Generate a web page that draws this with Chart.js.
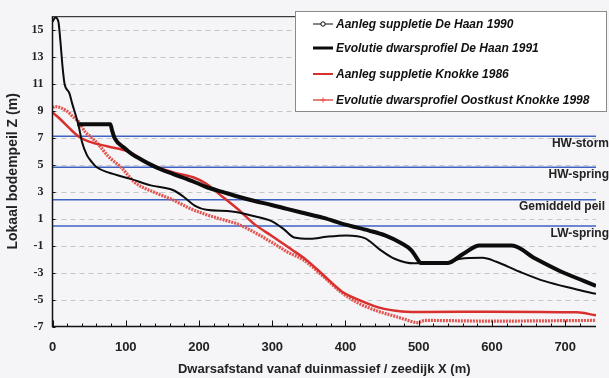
<!DOCTYPE html>
<html>
<head>
<meta charset="utf-8">
<script src="https://cdn.jsdelivr.net/npm/chart.js@4"></script>
<style>
  html, body { margin: 0; padding: 0; background: #f5f5f7; }
</style>
</head>
<body>
<canvas id="profiel" width="609" height="378"></canvas>
<script>
// tick labels
var yTicks = [-7, -5, -3, -1, 1, 3, 5, 7, 9, 11, 13, 15];
var xLabels = [0, 100, 200, 300, 400, 500, 600, 700];

// water levels (m)
var levelNames = ['HW-storm', 'HW-spring', 'Gemiddeld peil', 'LW-spring'];
var levelValues = [7.1, 4.8, 2.4, 0.45];

var seriesNames = [
  'Aanleg suppletie De Haan 1990',
  'Evolutie dwarsprofiel De Haan 1991',
  'Aanleg suppletie Knokke 1986',
  'Evolutie dwarsprofiel Oostkust Knokke 1998'
];

// Aanleg suppletie De Haan 1990
var haan1990X = [34, 79, 81, 85, 99, 108, 121, 134, 150, 165, 190, 210, 232, 254, 276, 299, 320, 343, 370, 400, 432, 454, 477, 490, 497, 503, 539, 561, 583, 627, 659, 694, 726, 742];
var haan1990Y = [8.0, 8.0, 7.6, 6.95, 6.2, 5.8, 5.38, 5.0, 4.6, 4.3, 3.8, 3.34, 2.98, 2.62, 2.3, 2.01, 1.72, 1.41, 1.05, 0.55, 0.11, -0.25, -0.85, -1.35, -1.9, -2.3, -2.3, -1.6, -1.0, -1.0, -1.96, -2.92, -3.64, -4.0];

// Evolutie dwarsprofiel De Haan 1991
var haan1991X = [0, 4, 8, 10.7, 13.8, 16.4, 23, 27, 32, 36.4, 40.4, 47, 54, 60.4, 76, 107, 134, 165, 179, 196, 210, 245, 276, 299, 316, 330, 352, 374, 401, 427, 446, 467, 494, 539, 557, 587, 606, 637, 672, 712, 742];
var haan1991Y = [15.6, 15.9, 15.6, 14.2, 12.2, 11.0, 10.3, 9.5, 8.6, 7.7, 6.65, 5.7, 5.17, 4.8, 4.42, 3.94, 3.46, 3.1, 2.62, 1.9, 1.65, 1.53, 1.17, 0.81, 0.2, -0.4, -0.5, -0.35, -0.25, -0.47, -1.26, -1.98, -2.32, -2.25, -1.98, -1.91, -2.2, -2.92, -3.64, -4.2, -4.58];

// Aanleg suppletie Knokke 1986
var knokke1986X = [0, 10, 23, 36, 50, 76, 103, 134, 165, 192, 210, 232, 254, 276, 299, 325, 347, 370, 395, 419, 446, 477, 508, 597, 716, 742];
var knokke1986Y = [8.87, 8.4, 7.7, 7.07, 6.7, 6.34, 5.98, 5.02, 4.42, 4.06, 3.58, 2.62, 1.65, 0.57, -0.27, -1.24, -2.08, -3.2, -4.4, -5.05, -5.6, -5.88, -5.93, -5.9, -5.95, -6.17];

// Evolutie dwarsprofiel Oostkust Knokke 1998
var knokke1998X = [0, 4, 18.7, 27, 36, 45, 54, 63, 76, 94, 112, 143, 165, 187, 210, 232, 254, 276, 299, 321, 343, 370, 395, 419, 446, 463, 480, 499, 508, 597, 742];
var knokke1998Y = [9.23, 9.3, 9.0, 8.6, 8.15, 7.4, 6.97, 6.47, 5.62, 4.78, 3.7, 2.86, 2.37, 1.77, 1.29, 0.93, 0.57, -0.03, -0.75, -1.48, -2.08, -3.3, -4.5, -5.3, -5.9, -6.17, -6.45, -6.72, -6.55, -6.6, -6.55];

function pts(xs, ys) {
  return xs.map(function (x, i) { return { x: x, y: ys[i] }; });
}

// grid, water levels, axes, tick marks and legend
var overlay = {
  id: 'overlay',
  beforeDatasetsDraw: function (chart) {
    var ctx = chart.ctx, a = chart.chartArea, ys = chart.scales.y;
    ctx.save();
    ctx.strokeStyle = '#c6c6ca';
    ctx.lineWidth = 1;
    ctx.setLineDash([5, 4]);
    yTicks.forEach(function (v) {
      if (v === -7) return;
      var py = Math.round(ys.getPixelForValue(v)) + 0.5;
      ctx.beginPath(); ctx.moveTo(a.left, py); ctx.lineTo(a.right, py); ctx.stroke();
    });
    ctx.setLineDash([]);
    ctx.strokeStyle = '#3d62c2';
    ctx.lineWidth = 1.6;
    levelValues.forEach(function (v) {
      var py = ys.getPixelForValue(v);
      ctx.beginPath(); ctx.moveTo(a.left, py); ctx.lineTo(a.right, py); ctx.stroke();
    });
    ctx.restore();
  },
  afterDatasetsDraw: function (chart) {
    var ctx = chart.ctx, a = chart.chartArea, xs = chart.scales.x, ys = chart.scales.y;
    ctx.save();
    // frame
    ctx.strokeStyle = '#111';
    ctx.lineWidth = 1;
    ctx.beginPath(); ctx.moveTo(a.left, a.top + 0.5); ctx.lineTo(a.right, a.top + 0.5); ctx.stroke();
    ctx.lineWidth = 1.5;
    ctx.beginPath(); ctx.moveTo(a.left, a.top); ctx.lineTo(a.left, a.bottom); ctx.lineTo(a.right, a.bottom); ctx.stroke();
    // tick marks pointing inwards
    ctx.lineWidth = 1;
    xs.ticks.forEach(function (t) {
      if (t.value % 20 !== 0) return;
      var px = Math.round(xs.getPixelForValue(t.value)) + 0.5;
      var len = t.value % 100 === 0 ? 6 : 3;
      ctx.beginPath(); ctx.moveTo(px, a.bottom); ctx.lineTo(px, a.bottom - len); ctx.stroke();
    });
    yTicks.forEach(function (v) {
      var py = Math.round(ys.getPixelForValue(v)) + 0.5;
      ctx.beginPath(); ctx.moveTo(a.left, py); ctx.lineTo(a.left + 3, py); ctx.stroke();
    });
    // water level labels
    ctx.fillStyle = '#222';
    ctx.font = 'bold 12px "Liberation Sans", Arial, sans-serif';
    ctx.textAlign = 'right';
    ctx.textBaseline = 'middle';
    levelNames.forEach(function (name, i) {
      ctx.fillText(name, i === 2 ? 605 : 609, ys.getPixelForValue(levelValues[i]) + 7.5);
    });
    // legend box
    var bx = 295, by = 11, bw = 311, bh = 100;
    ctx.fillStyle = '#ffffff';
    ctx.fillRect(bx, by, bw, bh);
    ctx.strokeStyle = '#8a8a8a';
    ctx.lineWidth = 1;
    ctx.strokeRect(bx + 0.5, by + 0.5, bw, bh);
    ctx.font = 'italic bold 12px "Liberation Sans", Arial, sans-serif';
    ctx.textAlign = 'left';
    var rows = [24, 48, 74, 100];
    chart.data.datasets.forEach(function (ds, i) {
      var ry = rows[i];
      ctx.strokeStyle = ds.borderColor;
      ctx.lineWidth = [1, 3, 2, 1.5][i];
      ctx.beginPath(); ctx.moveTo(313, ry); ctx.lineTo(333, ry); ctx.stroke();
      if (i === 0) {
        ctx.fillStyle = '#fff';
        ctx.beginPath(); ctx.arc(323, ry, 2.2, 0, Math.PI * 2); ctx.fill(); ctx.stroke();
      }
      if (i === 3) {
        ctx.lineWidth = 1;
        ctx.beginPath();
        ctx.moveTo(323, ry - 2.5); ctx.lineTo(323, ry + 2.5);
        ctx.moveTo(320.5, ry); ctx.lineTo(325.5, ry);
        ctx.stroke();
      }
      ctx.fillStyle = '#111';
      ctx.fillText(ds.label, 336, ry + 0.5);
    });
    ctx.restore();
  }
};

var ctx = document.getElementById('profiel').getContext('2d');

var chart = new Chart(ctx, {
  type: 'line',
  data: {
    datasets: [{
      label: seriesNames[0],
      data: pts(haan1990X, haan1990Y),
      borderColor: '#0c0c0c',
      borderWidth: 4
    }, {
      label: seriesNames[1],
      data: pts(haan1991X, haan1991Y),
      borderColor: '#0c0c0c',
      borderWidth: 2
    }, {
      label: seriesNames[2],
      data: pts(knokke1986X, knokke1986Y),
      borderColor: '#d8302e',
      borderWidth: 2.5
    }, {
      label: seriesNames[3],
      data: pts(knokke1998X, knokke1998Y),
      borderColor: '#e25450',
      borderWidth: 3.2,
      borderDash: [2, 1]
    }]
  },
  plugins: [overlay],
  options: {
    responsive: false,
    animation: false,
    devicePixelRatio: 1,
    layout: { padding: { top: 8, right: 0, left: 0, bottom: 0 } },
    elements: {
      point: { radius: 0 },
      line: { cubicInterpolationMode: 'monotone', fill: false }
    },
    plugins: {
      legend: { display: false },
      tooltip: { enabled: false }
    },
    scales: {
      x: {
        type: 'linear',
        min: 0,
        max: 742,
        afterFit: function (s) { s.height = 51.5; },
        grid: { display: false, drawTicks: false },
        border: { display: false },
        ticks: {
          stepSize: 20,
          autoSkip: false,
          maxRotation: 0,
          padding: 13,
          color: '#222',
          font: { family: '"Liberation Sans", Arial, sans-serif', size: 13, weight: 'bold' },
          callback: function (v) { return xLabels.indexOf(v) >= 0 ? String(v) : ''; }
        },
        title: {
          display: true,
          text: 'Dwarsafstand vanaf duinmassief / zeedijk X (m)',
          color: '#222',
          padding: { top: 0, bottom: 1 },
          font: { family: '"Liberation Sans", Arial, sans-serif', size: 13, weight: 'bold' }
        }
      },
      y: {
        min: -7,
        max: 16,
        afterFit: function (s) { s.width = 52.5; },
        afterBuildTicks: function (s) {
          s.ticks = yTicks.map(function (v) { return { value: v }; });
        },
        grid: { display: false, drawTicks: false },
        border: { display: false },
        ticks: {
          padding: 9,
          color: '#222',
          font: { family: '"Liberation Serif", "Times New Roman", serif', size: 12, weight: 'bold' }
        },
        title: {
          display: true,
          text: 'Lokaal bodempeil Z (m)',
          color: '#222',
          padding: { top: 5, bottom: 0 },
          font: { family: '"Liberation Sans", Arial, sans-serif', size: 14, weight: 'bold' }
        }
      }
    }
  }
});
</script>
</body>
</html>
